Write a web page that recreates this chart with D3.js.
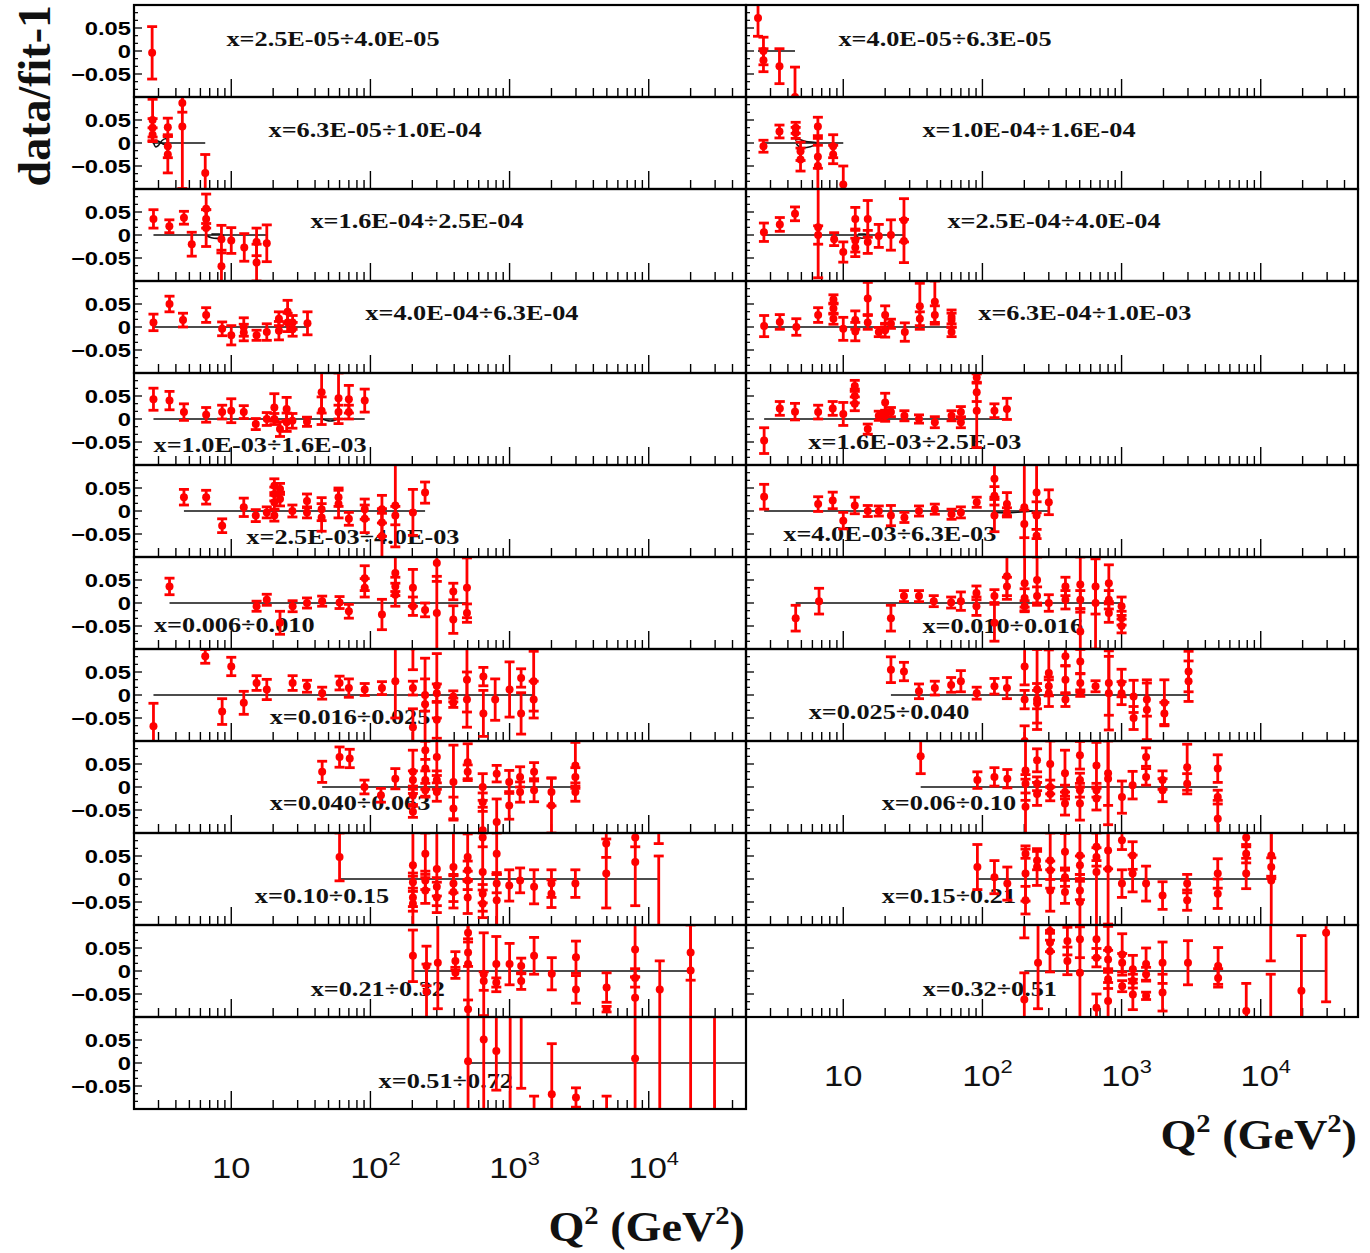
<!DOCTYPE html>
<html>
<head>
<meta charset="utf-8">
<script src="https://cdn.jsdelivr.net/npm/d3@7"></script>
<style>
  body { margin: 0; background: #fff; }
  svg { display: block; }
</style>
</head>
<body>
<svg id="chart" width="1370" height="1253"></svg>
<script>
// ---------------- data: [Q2 (GeV^2), data/fit-1, total error] ----------------
const binLabels = [
  "x=2.5E-05÷4.0E-05", "x=4.0E-05÷6.3E-05",
  "x=6.3E-05÷1.0E-04", "x=1.0E-04÷1.6E-04",
  "x=1.6E-04÷2.5E-04", "x=2.5E-04÷4.0E-04",
  "x=4.0E-04÷6.3E-04", "x=6.3E-04÷1.0E-03",
  "x=1.0E-03÷1.6E-03", "x=1.6E-03÷2.5E-03",
  "x=2.5E-03÷4.0E-03", "x=4.0E-03÷6.3E-03",
  "x=0.006÷0.010", "x=0.010÷0.016",
  "x=0.016÷0.025", "x=0.025÷0.040",
  "x=0.040÷0.063", "x=0.06÷0.10",
  "x=0.10÷0.15", "x=0.15÷0.21",
  "x=0.21÷0.32", "x=0.32÷0.51",
  "x=0.51÷0.72"
];

const binA = [[2.7,-0.004,0.057]];
const binB = [[2.44,0.072,0.04],[2.67,0.0,0.03],[2.67,-0.02,0.025],[3.48,-0.033,0.038],[4.5,-0.1,0.065]];
const binC = [[2.72,0.05,0.045],[2.72,0.033,0.02],[2.72,0.018,0.015],[3.5,0.034,0.02],[3.5,-0.007,0.025],
  [3.5,-0.025,0.04],[4.45,0.087,0.02],[4.45,0.036,0.135],[6.5,-0.065,0.04]];
const binD = [[2.67,-0.007,0.013],[3.48,0.025,0.014],[4.55,0.033,0.012],[4.55,0.022,0.012],[4.93,-0.018,0.02],
  [4.93,-0.036,0.025],[6.57,0.036,0.02],[6.57,-0.03,0.025],[6.57,-0.05,0.06],[8.46,-0.007,0.025],
  [8.46,-0.025,0.02],[10,-0.09,0.04]];
const binE = [[2.76,0.035,0.02],[3.59,0.019,0.014],[4.57,0.0375,0.014],[5.2,-0.02,0.026],[6.6,0.057,0.032],
  [6.6,0.035,0.02],[6.6,0.015,0.04],[8.5,-0.009,0.03],[8.5,-0.068,0.035],[10,-0.012,0.028],[12.4,-0.027,0.03],
  [15.2,-0.015,0.03],[15.2,-0.06,0.04],[18,-0.018,0.04]];
const binF = [[2.69,0.006,0.02],[3.5,0.023,0.015],[4.5,0.046,0.015],[6.6,0.017,0.11],[6.6,0.0,0.02],
  [8.6,-0.009,0.014],[10,-0.037,0.022],[12.2,0.035,0.025],[12.2,-0.012,0.025],[12.2,-0.027,0.02],
  [15,0.035,0.04],[15,-0.015,0.025],[18,-0.002,0.025],[22,0.0,0.033],[27.3,0.032,0.047],[27.3,-0.013,0.047]];
const binG = [[2.76,0.01,0.018],[3.6,0.05,0.017],[4.5,0.015,0.015],[6.6,0.026,0.016],[8.6,-0.004,0.015],
  [10,-0.018,0.021],[12.3,0.0,0.02],[12.3,-0.012,0.018],[15.2,-0.018,0.011],[18,-0.011,0.018],
  [22,0.018,0.015],[22,-0.008,0.02],[25.4,0.033,0.025],[25.4,0.01,0.02],[27.6,0.01,0.015],
  [27.6,-0.005,0.015],[35.3,0.008,0.025]];
const binH = [[2.7,0.002,0.023],[3.5,0.011,0.016],[4.6,0.0,0.018],[6.6,0.026,0.016],[8.5,0.06,0.01],
  [8.5,0.04,0.012],[8.5,0.018,0.012],[10,-0.004,0.025],[12.2,0.015,0.02],[12.2,-0.01,0.02],
  [15,0.062,0.035],[15,0.01,0.015],[18,-0.011,0.01],[20,0.026,0.02],[20,-0.007,0.015],[22,0.007,0.01],
  [27.7,-0.011,0.02],[35.5,0.045,0.05],[35.5,0.018,0.015],[45.5,0.055,0.045],[45.5,0.026,0.02],
  [60,0.022,0.015],[60,0.015,0.015],[60,-0.011,0.01]];
const binI = [[2.76,0.043,0.024],[3.6,0.04,0.02],[4.57,0.015,0.018],[6.6,0.009,0.016],[8.6,0.015,0.015],
  [10,0.018,0.026],[12.3,0.015,0.014],[15,-0.011,0.012],[18,0.0,0.014],[20.4,0.025,0.03],[20.4,0.0,0.012],
  [22.4,-0.022,0.016],[25,0.022,0.025],[25,-0.007,0.02],[27.5,-0.004,0.016],[35,-0.006,0.01],
  [44.6,0.058,0.045],[44.6,0.018,0.03],[59,0.045,0.055],[59,0.015,0.015],[70,0.043,0.03],
  [70,0.015,0.015],[91,0.04,0.025]];
const binJ = [[2.7,-0.047,0.028],[3.5,0.023,0.015],[4.5,0.016,0.018],[6.6,0.015,0.015],[8.4,0.023,0.015],
  [10,0.011,0.025],[12.1,0.072,0.012],[12.1,0.05,0.015],[12.1,0.033,0.015],[15,-0.022,0.011],
  [18,0.007,0.01],[20,0.036,0.02],[20,0.007,0.012],[22,0.015,0.01],[27.5,0.007,0.011],[35,0.0,0.009],
  [45.5,-0.007,0.012],[60,0.007,0.011],[70,0.015,0.012],[70,-0.007,0.012],[91,0.09,0.01],
  [91,0.058,0.02],[91,0.018,0.08],[122,0.018,0.015],[150,0.022,0.023]];
const binK = [[4.57,0.03,0.017],[6.6,0.03,0.015],[8.6,-0.032,0.015],[12.3,0.008,0.02],[15,-0.01,0.013],
  [18,-0.003,0.012],[20.4,0.055,0.015],[20.4,0.037,0.015],[20.4,0.019,0.015],[20.4,-0.01,0.012],
  [22.4,0.048,0.012],[22.4,0.026,0.015],[27.5,0.0,0.013],[35,0.022,0.015],[35,-0.003,0.012],
  [44.6,0.004,0.025],[44.6,-0.014,0.03],[59,0.03,0.02],[59,0.015,0.03],[70,-0.017,0.014],
  [91,0.004,0.022],[91,-0.017,0.03],[121,0.004,0.03],[121,-0.025,0.03],[121,-0.055,0.05],
  [151,0.012,0.09],[151,-0.01,0.02],[202,-0.003,0.05],[247,0.04,0.023]];
const binL = [[2.7,0.031,0.027],[6.6,0.015,0.016],[8.4,0.023,0.018],[10,-0.021,0.018],[12.1,0.012,0.018],
  [15,0.0,0.012],[18,0.0,0.011],[22,-0.01,0.022],[27.5,-0.014,0.011],[35,0.0,0.011],[45.5,0.004,0.011],
  [60,-0.007,0.011],[70,-0.003,0.012],[91,0.019,0.011],[122,0.07,0.04],[122,0.033,0.02],
  [122,-0.01,0.035],[150,0.015,0.025],[150,-0.003,0.01],[200,0.008,0.11],[200,-0.028,0.03],
  [245,0.04,0.1],[245,-0.01,0.03],[245,-0.054,0.05],[300,0.019,0.027]];
const binM = [[3.6,0.036,0.018],[15.2,-0.007,0.011],[18,0.007,0.012],[22.4,-0.043,0.025],[27.6,-0.007,0.012],
  [35,0.0,0.011],[45,0.004,0.011],[60,0.001,0.013],[70,-0.018,0.015],[91,0.054,0.027],[91,0.033,0.02],
  [121,-0.025,0.033],[151,0.065,0.04],[151,0.036,0.02],[151,0.018,0.025],[202,0.033,0.04],
  [202,-0.007,0.02],[247,-0.015,0.015],[300,0.087,0.04],[300,-0.022,0.08],[394,0.025,0.018],
  [394,-0.036,0.03],[494,0.033,0.065],[494,-0.022,0.02]];
const binN = [[4.55,-0.033,0.028],[6.7,0.004,0.028],[22,-0.033,0.028],[27.3,0.015,0.012],[35,0.015,0.012],
  [44.7,0.004,0.012],[59.6,0.001,0.012],[70,0.004,0.02],[90.6,0.022,0.015],[90.6,-0.007,0.02],
  [122,0.015,0.014],[122,-0.043,0.04],[150,0.058,0.05],[150,0.036,0.02],[201,0.043,0.06],
  [201,0.011,0.02],[201,-0.007,0.012],[247,0.05,0.05],[247,0.015,0.02],[300,0.0,0.018],
  [395,0.036,0.02],[395,0.007,0.02],[505,0.04,0.06],[505,0.007,0.02],[505,-0.062,0.05],
  [650,0.036,0.06],[650,0.0,0.1],[810,0.043,0.04],[810,0.007,0.02],[810,-0.022,0.02],
  [1000,-0.007,0.02],[1000,-0.033,0.015],[1000,-0.05,0.015]];
const binO = [[2.76,-0.068,0.05],[6.5,0.084,0.015],[8.6,-0.036,0.028],[10,0.062,0.02],[12.3,-0.017,0.025],
  [15.2,0.026,0.016],[18,0.012,0.022],[27.6,0.026,0.016],[35,0.019,0.013],[45,0.004,0.013],
  [60,0.026,0.015],[70,0.015,0.02],[91,0.012,0.013],[121,0.015,0.014],[151,0.03,0.08],
  [202,0.105,0.05],[202,0.015,0.015],[202,-0.07,0.04],[247,0.0,0.035],[247,-0.02,0.1],
  [300,0.02,0.07],[300,0.004,0.02],[300,-0.054,0.04],[394,-0.003,0.012],[394,-0.017,0.01],
  [494,0.033,0.07],[494,-0.01,0.06],[648,0.04,0.02],[648,-0.04,0.05],[788,-0.01,0.045],
  [1000,0.012,0.06],[1210,0.037,0.02],[1210,-0.04,0.045],[1490,0.03,0.065],[1490,-0.01,0.04]];
const binP = [[22,0.055,0.028],[27.3,0.051,0.02],[35,0.008,0.016],[45.5,0.015,0.015],[59.6,0.022,0.016],
  [70,0.03,0.023],[91,0.004,0.013],[122,0.019,0.017],[150,0.015,0.023],[201,0.062,0.04],
  [201,-0.01,0.02],[201,-0.1,0.033],[247,0.012,0.087],[247,-0.01,0.02],[247,-0.018,0.043],
  [300,0.048,0.05],[300,0.019,0.02],[300,0.004,0.029],[395,0.084,0.02],[395,0.033,0.03],
  [395,-0.01,0.015],[505,0.073,0.026],[505,0.026,0.02],[505,0.004,0.007],[650,0.019,0.012],
  [810,0.026,0.07],[810,0.004,0.08],[1000,0.026,0.03],[1000,0.004,0.025],[1220,-0.003,0.035],
  [1220,-0.05,0.025],[1520,-0.01,0.036],[1520,-0.032,0.065],[2030,-0.017,0.05],[2030,-0.04,0.024],
  [3030,0.051,0.044],[3030,0.03,0.044]];
const binQ = [[45,0.033,0.023],[60,0.065,0.022],[71,0.062,0.02],[90.6,0.0,0.015],[119,-0.018,0.015],
  [151,0.018,0.022],[202,0.033,0.047],[202,0.015,0.02],[202,-0.018,0.02],[202,-0.054,0.012],
  [248,0.08,0.02],[248,0.04,0.06],[248,0.015,0.02],[248,-0.007,0.015],[300,0.065,0.04],
  [300,0.015,0.02],[300,-0.011,0.02],[395,0.011,0.08],[395,-0.047,0.025],[500,0.054,0.04],
  [500,0.033,0.015],[641,0.0,0.029],[641,-0.033,0.02],[641,-0.094,0.05],[808,0.029,0.018],
  [808,-0.076,0.05],[994,0.011,0.025],[994,-0.04,0.03],[1190,0.022,0.022],[1190,-0.011,0.022],
  [1500,0.033,0.02],[1500,-0.007,0.025],[2000,-0.011,0.03],[2000,-0.04,0.06],[2970,0.047,0.05],
  [2970,0.022,0.02],[2970,-0.011,0.02]];
const binR = [[36,0.067,0.038],[92,0.015,0.018],[122,0.022,0.02],[151,0.018,0.02],[204,0.036,0.065],
  [204,0.007,0.02],[204,-0.043,0.06],[247,0.058,0.025],[247,0.007,0.015],[247,-0.015,0.025],
  [307,0.05,0.05],[307,0.0,0.015],[307,-0.015,0.015],[392,0.03,0.05],[392,-0.011,0.015],
  [392,-0.036,0.025],[502,0.069,0.03],[502,0.015,0.015],[502,-0.007,0.015],[502,-0.036,0.036],
  [660,0.047,0.05],[660,-0.007,0.015],[660,-0.025,0.025],[800,0.03,0.07],[800,0.018,0.1],
  [1006,-0.022,0.035],[1200,0.004,0.03],[1500,0.065,0.02],[1500,0.022,0.018],[1970,0.015,0.02],
  [1970,-0.007,0.025],[2960,0.043,0.05],[2960,0.007,0.022],[4910,0.04,0.03],[4910,-0.022,0.015],
  [4910,-0.069,0.04]];
const binS = [[60,0.048,0.052],[202,0.03,0.1],[202,-0.007,0.02],[202,-0.04,0.02],[202,-0.054,0.06],
  [248,0.055,0.045],[248,-0.003,0.02],[248,-0.025,0.028],[300,0.022,0.08],[300,-0.017,0.02],
  [300,-0.04,0.033],[395,0.026,0.075],[395,-0.01,0.02],[395,-0.028,0.035],[500,0.048,0.05],
  [500,0.019,0.02],[500,-0.003,0.02],[500,-0.04,0.035],[641,0.09,0.02],[641,0.015,0.085],
  [641,-0.032,0.02],[641,-0.054,0.03],[808,0.055,0.045],[808,-0.01,0.02],[808,-0.046,0.06],
  [994,-0.014,0.034],[1190,-0.003,0.027],[1500,-0.017,0.037],[2000,-0.01,0.03],[2000,-0.032,0.03],
  [2970,-0.01,0.03],[4950,0.077,0.03],[4950,0.012,0.075],[8000,0.09,0.02],[8000,0.037,0.095],
  [11800,0.13,0.053],[11800,-0.12,0.17]];
const binT = [[92,0.026,0.049],[122,0.004,0.036],[151,-0.01,0.036],[204,0.055,0.01],[204,0.012,0.06],
  [204,-0.046,0.03],[247,0.04,0.02],[247,0.026,0.04],[307,0.04,0.06],[307,0.019,0.02],
  [307,-0.025,0.045],[392,0.059,0.04],[392,0.004,0.02],[392,-0.028,0.025],[502,0.051,0.05],
  [502,0.03,0.02],[502,-0.025,0.02],[502,-0.05,0.06],[660,0.07,0.03],[660,0.048,0.02],
  [660,0.015,0.12],[800,0.062,0.04],[800,0.022,0.12],[1006,0.084,0.02],[1006,-0.01,0.03],
  [1200,0.051,0.03],[1200,0.012,0.04],[1500,-0.01,0.038],[1970,-0.036,0.03],[2960,-0.01,0.02],
  [2960,-0.046,0.022],[4910,0.012,0.032],[4910,-0.032,0.032],[7860,0.09,0.02],[7860,0.055,0.02],
  [7860,0.012,0.033],[11900,0.051,0.05],[11900,0.026,0.02],[11900,-0.003,0.11]];
const binU = [[202,0.033,0.056],[253,0.011,0.043],[253,-0.045,0.06],[305,0.018,0.1],[408,0.022,0.02],
  [408,-0.004,0.012],[503,0.083,0.02],[503,0.04,0.03],[503,0.015,0.12],[503,-0.083,0.02],
  [652,-0.007,0.09],[652,-0.022,0.02],[803,0.015,0.06],[803,-0.025,0.01],[1000,0.015,0.045],
  [1212,0.011,0.017],[1212,-0.022,0.018],[1500,0.033,0.04],[2010,-0.006,0.035],[3000,0.03,0.035],
  [3000,-0.04,0.03],[4980,-0.036,0.032],[4980,-0.083,0.006],[7980,0.047,0.06],[7980,-0.015,0.02],
  [7980,-0.058,0.045],[12000,-0.04,0.062],[20000,0.04,0.06],[20000,0.001,0.11]];
const binV = [[200,0.12,0.048],[200,-0.062,0.058],[251,0.018,0.1],[306,0.087,0.02],[306,0.062,0.02],
  [306,0.043,0.045],[408,0.065,0.03],[408,0.022,0.03],[502,0.069,0.04],[502,-0.004,0.1],
  [660,0.069,0.04],[660,0.029,0.02],[660,-0.08,0.03],[800,0.047,0.05],[800,0.025,0.02],
  [800,-0.018,0.02],[800,-0.065,0.04],[1010,0.036,0.045],[1010,0.018,0.02],[1010,-0.033,0.012],
  [1205,0.004,0.03],[1205,-0.022,0.015],[1205,-0.051,0.033],[1500,0.015,0.035],[1500,-0.007,0.015],
  [1500,-0.054,0.008],[1970,0.018,0.045],[1970,-0.047,0.04],[3000,0.018,0.048],[4940,0.011,0.04],
  [4940,-0.015,0.02],[7870,-0.087,0.06],[11800,0.13,0.108],[11800,-0.12,0.113],[19600,-0.043,0.12],
  [29500,0.083,0.15]];
const binW = [[503,0.004,0.12],[652,0.051,0.16],[803,0.026,0.085],[1010,-0.13,0.25],[1212,0.11,0.165],
  [1500,-0.13,0.058],[2010,-0.068,0.11],[3000,-0.075,0.021],[4980,-0.12,0.048],[7980,0.01,0.14],
  [12000,-0.14,0.25],[20000,0.14,0.3],[29700,-0.15,0.3]];

// where each bin label sits, in (Q2, data/fit-1) units of its own panel
const labelAt = [
  [53.8,0.026],[53.8,0.026],[108,0.028],[216,0.028],[216,0.030],[327,0.030],
  [536,0.030],[544,0.030],[16.1,-0.057],[32.7,-0.050],[74.8,-0.057],[21.6,-0.050],
  [10.5,-0.048],[140,-0.050],[71.3,-0.048],[21.3,-0.037],[71.3,-0.035],[57.4,-0.035],
  [44.9,-0.037],[57.4,-0.037],[113,-0.039],[113,-0.039],[348,-0.039]
];

// small structures of the fit curve around zero
const wiggleC = [[2.75,0.003],[2.85,-0.008],[3.0,-0.005],[3.2,0.006],[3.4,0.009],[3.5,0.002],[3.3,-0.003],[3.0,0.004],[2.8,0.006]];
const wiggleD = [[4.5,0.006],[4.8,0.008],[5.4,0.003],[6.5,0.0],[5.8,-0.008],[5.0,-0.01],[4.6,-0.002]];
const wiggleE = [[6.6,0.0],[7.2,-0.006],[8.2,-0.007],[8.8,-0.002],[8.2,0.002],[7.2,0.002]];
const wiggleF = [[12.2,0.0],[13,-0.006],[14.4,-0.006],[15.2,0.0],[14,0.002],[12.8,0.002]];
const wiggleI = [[45,0.0],[50,-0.004],[55,-0.003],[60,0.002]];
const wiggleL = [[120,-0.003],[150,-0.004],[190,-0.002],[230,0.0]];
const wiggles = [[2, wiggleC], [3, wiggleD], [4, wiggleE], [5, wiggleF], [8, wiggleI], [11, wiggleL]];

const panelData = [binA, binB, binC, binD, binE, binF, binG, binH, binI, binJ, binK, binL,
  binM, binN, binO, binP, binQ, binR, binS, binT, binU, binV, binW];

const xDomain = [2, 50000];
const yDomain = [-0.1, 0.1];
const xMajor = [10, 100, 1000, 10000];
const xExponents = ["", "2", "3", "4"];
const yMajor = [-0.05, 0, 0.05];
const yMajorText = ["\u22120.05", "0", "0.05"];

// ---------------- layout ----------------
const colLeft = [134, 746];
const panelW = 612, panelH = 92, topY = 5;
const RED = "#ff0000";

const svg = d3.select("#chart");
const defs = svg.append("defs");

const xScales = colLeft.map(l => d3.scaleLog().domain(xDomain).range([l, l + panelW]));

// minor x ticks: 2..9 times each decade inside the domain
const xMinor = [];
[1, 10, 100, 1000, 10000].forEach(d => {
  for (let k = 2; k <= 9; k++) {
    const v = k * d;
    if (v > xDomain[0] && v < xDomain[1] && !xMajor.includes(v)) xMinor.push(v);
  }
});
const yMinor = d3.range(-6, 7).map(k => k * 0.05 / 3).filter(v => Math.abs(Math.abs(v) - 0.05) > 1e-6 && Math.abs(v) > 1e-6 && Math.abs(v) < 0.0999);

panelData.forEach((pts, i) => {
  const row = Math.floor(i / 2), col = i % 2;
  const top = topY + row * panelH;
  const xs = xScales[col];
  const ys = d3.scaleLinear().domain(yDomain).range([top + panelH, top]);
  const left = colLeft[col];

  defs.append("clipPath").attr("id", "clip" + i)
    .append("rect").attr("x", left).attr("y", top).attr("width", panelW).attr("height", panelH);

  const g = svg.append("g");

  // x ticks along the bottom edge
  g.selectAll(".xmaj").data(xMajor).join("line")
    .attr("x1", d => xs(d)).attr("x2", d => xs(d))
    .attr("y1", top + panelH).attr("y2", top + panelH - 18)
    .attr("stroke", "#000").attr("stroke-width", 1.4);
  g.selectAll(".xmin").data(xMinor).join("line")
    .attr("x1", d => xs(d)).attr("x2", d => xs(d))
    .attr("y1", top + panelH).attr("y2", top + panelH - 9)
    .attr("stroke", "#000").attr("stroke-width", 1.4);

  // y ticks along the left edge
  g.selectAll(".ymaj").data(yMajor).join("line")
    .attr("x1", left).attr("x2", left + 8)
    .attr("y1", d => ys(d)).attr("y2", d => ys(d))
    .attr("stroke", "#000").attr("stroke-width", 1.3);
  g.selectAll(".ymin").data(yMinor).join("line")
    .attr("x1", left).attr("x2", left + 4)
    .attr("y1", d => ys(d)).attr("y2", d => ys(d))
    .attr("stroke", "#000").attr("stroke-width", 1.2);

  // y tick labels (left column only)
  if (col === 0) {
    yMajor.forEach((v, k) => {
      g.append("text")
        .attr("transform", `translate(131,${ys(v) + 6.5}) scale(1.32,1)`)
        .attr("text-anchor", "end")
        .attr("font-family", "Liberation Sans, Arial, sans-serif")
        .attr("font-weight", "bold")
        .attr("font-size", 18)
        .text(yMajorText[k]);
    });
  }

  // bin label
  const [lq, lv] = labelAt[i];
  g.append("text")
    .attr("transform", `translate(${xs(lq)},${ys(lv) + 7}) scale(1.25,1)`)
    .attr("text-anchor", "middle")
    .attr("font-family", "Liberation Serif, Times New Roman, serif")
    .attr("font-weight", "bold")
    .attr("font-size", 21)
    .attr("fill", "#111")
    .text(binLabels[i]);

  const inner = g.append("g").attr("clip-path", `url(#clip${i})`);

  // fit reference line at zero across the measured Q2 range
  const [qlo, qhi] = d3.extent(pts, d => d[0]);
  inner.append("line")
    .attr("x1", xs(qlo)).attr("x2", i === 22 ? xs(xDomain[1]) : xs(qhi))
    .attr("y1", ys(0)).attr("y2", ys(0))
    .attr("stroke", "#111").attr("stroke-width", 1.6);

  wiggles.filter(w => w[0] === i).forEach(w => {
    inner.append("path")
      .attr("d", d3.line().x(d => xs(d[0])).y(d => ys(d[1])).curve(d3.curveCardinal)(w[1]))
      .attr("fill", "none").attr("stroke", "#111").attr("stroke-width", 1.6);
  });

  // error bars with end caps and markers
  const pg = inner.selectAll(".pt").data(pts).join("g");
  pg.append("line")
    .attr("x1", d => xs(d[0])).attr("x2", d => xs(d[0]))
    .attr("y1", d => ys(d[1] - d[2])).attr("y2", d => ys(d[1] + d[2]))
    .attr("stroke", RED).attr("stroke-width", 2.8);
  pg.append("line")
    .attr("x1", d => xs(d[0]) - 5).attr("x2", d => xs(d[0]) + 5)
    .attr("y1", d => ys(d[1] + d[2])).attr("y2", d => ys(d[1] + d[2]))
    .attr("stroke", RED).attr("stroke-width", 2.8);
  pg.append("line")
    .attr("x1", d => xs(d[0]) - 5).attr("x2", d => xs(d[0]) + 5)
    .attr("y1", d => ys(d[1] - d[2])).attr("y2", d => ys(d[1] - d[2]))
    .attr("stroke", RED).attr("stroke-width", 2.8);
  pg.append("circle")
    .attr("cx", d => xs(d[0])).attr("cy", d => ys(d[1]))
    .attr("r", 4).attr("fill", RED);

  // frame
  g.append("rect")
    .attr("x", left).attr("y", top).attr("width", panelW).attr("height", panelH)
    .attr("fill", "none").attr("stroke", "#000").attr("stroke-width", 2.2);
});

// x tick labels under the lowest panel of each column
const lowestBottom = [topY + 12 * panelH, topY + 11 * panelH];
[0, 1].forEach(col => {
  const xs = xScales[col];
  xMajor.forEach((v, k) => {
    const t = svg.append("text")
      .attr("transform", `translate(${xs(v) + (k ? 5 : 0)},${lowestBottom[col] + 69}) scale(1.15,1)`)
      .attr("text-anchor", "middle")
      .attr("font-family", "Liberation Sans, Arial, sans-serif")
      .attr("font-size", 30)
      .attr("fill", "#111");
    t.append("tspan").text("10");
    if (xExponents[k]) t.append("tspan").attr("dy", -13).attr("font-size", 19).text(xExponents[k]);
  });

  const title = svg.append("text")
    .attr("transform", `translate(${colLeft[col] + panelW - 1},${lowestBottom[col] + 132}) scale(1.1,1)`)
    .attr("text-anchor", "end")
    .attr("font-family", "Liberation Serif, Times New Roman, serif")
    .attr("font-weight", "bold")
    .attr("font-size", 42)
    .attr("fill", "#111");
  title.append("tspan").text("Q");
  title.append("tspan").attr("dy", -17).attr("font-size", 26).text("2");
  title.append("tspan").attr("dy", 17).text(" (GeV");
  title.append("tspan").attr("dy", -17).attr("font-size", 26).text("2");
  title.append("tspan").attr("dy", 17).text(")");
});

// y axis title
svg.append("text")
  .attr("transform", "translate(50,5) rotate(-90)")
  .attr("text-anchor", "end")
  .attr("font-family", "Liberation Serif, Times New Roman, serif")
  .attr("font-weight", "bold")
  .attr("font-size", 46)
  .attr("fill", "#111")
  .text("data/fit-1");
</script>
</body>
</html>
